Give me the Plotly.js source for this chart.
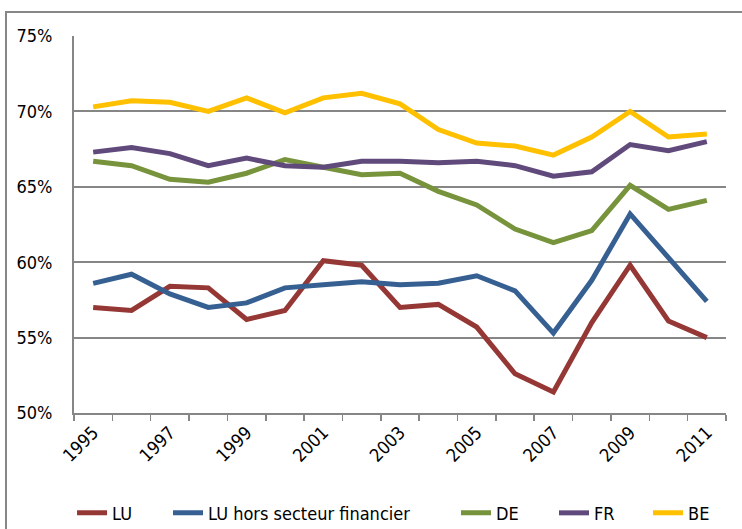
<!DOCTYPE html>
<html>
<head>
<meta charset="utf-8">
<script src="https://cdn.plot.ly/plotly-3.0.1.min.js"></script>
<style>
html,body{margin:0;padding:0;background:#fff;}
#wrap{position:relative;width:742px;height:529px;}
#chart{width:742px;height:529px;}
#frame{position:absolute;left:5px;top:11px;width:760px;height:540px;border:2px solid #878787;pointer-events:none;box-sizing:border-box;}
</style>
</head>
<body>
<div id="wrap"><div id="chart"></div><div id="frame"></div></div>
<script>
const years = [1995,1996,1997,1998,1999,2000,2001,2002,2003,2004,2005,2006,2007,2008,2009,2010,2011];
const tickYears = [1995,1997,1999,2001,2003,2005,2007,2009,2011];
const LU = [57.0,56.8,58.4,58.3,56.2,56.8,60.1,59.8,57.0,57.2,55.7,52.6,51.4,56.0,59.8,56.1,55.0];
const LUhors = [58.6,59.2,57.9,57.0,57.3,58.3,58.5,58.7,58.5,58.6,59.1,58.1,55.3,58.8,63.2,60.3,57.4];
const DE = [66.7,66.4,65.5,65.3,65.9,66.8,66.3,65.8,65.9,64.7,63.8,62.2,61.3,62.1,65.1,63.5,64.1];
const FR = [67.3,67.6,67.2,66.4,66.9,66.4,66.3,66.7,66.7,66.6,66.7,66.4,65.7,66.0,67.8,67.4,68.0];
const BE = [70.3,70.7,70.6,70.0,70.9,69.9,70.9,71.2,70.5,68.8,67.9,67.7,67.1,68.3,70.0,68.3,68.5];
const yTicks = [50,55,60,65,70,75];
const yTickText = ['50%','55%','60%','65%','70%','75%'];

const names = ['LU','LU hors secteur financier','DE','FR','BE'];
const series = [LU, LUhors, DE, FR, BE];
const colors = ['#953735','#376092','#77933C','#604A7B','#FFC000'];
const legendIds = ['legend','legend2','legend3','legend4','legend5'];
const legendX = [-0.003, 0.1442, 0.5859, 0.7362, 0.8804];

const traces = series.map((s,i)=>({
  x: years, y: s, name: names[i], type:'scatter', mode:'lines',
  line:{color:colors[i], width:5}, legend: legendIds[i]
}));

const font = {family:'"DejaVu Sans Condensed", "Liberation Sans Narrow", sans-serif', size:18, color:'#000'};

const layout = {
  width:742, height:529,
  margin:{l:74, r:16, t:36, b:116, autoexpand:false},
  paper_bgcolor:'#fff', plot_bgcolor:'#fff',
  font: font,
  showlegend:true,
  xaxis:{
    automargin:false,
    range:[1994.5, 2011.5], tickvals: tickYears, ticktext: tickYears.map(String),
    tickangle:-45, ticks:'outside', ticklen:0, showgrid:false, zeroline:false,
    showline:true, linecolor:'#868686', linewidth:2, tickfont:font,
    minor:{tick0:1994.5, dtick:1, ticks:'outside', ticklen:6, tickcolor:'#868686', tickwidth:1.5, showgrid:false}
  },
  yaxis:{
    automargin:false,
    range:[50,75], tickvals:yTicks, ticktext:yTickText,
    showgrid:true, gridcolor:'#868686', gridwidth:2, zeroline:false,
    showline:true, linecolor:'#868686', linewidth:2, ticks:'', tickfont:font,
    ticklabelstandoff:16
  }
};
legendIds.forEach((id,i)=>{
  layout[id] = {orientation:'h', x:legendX[i], xanchor:'left', yref:'container', y:0.03, yanchor:'middle',
    font:font, tracegroupgap:0, itemsizing:'constant', bgcolor:'rgba(0,0,0,0)'};
});

Plotly.newPlot('chart', traces, layout, {displayModeBar:false, staticPlot:true});
</script>
</body>
</html>
